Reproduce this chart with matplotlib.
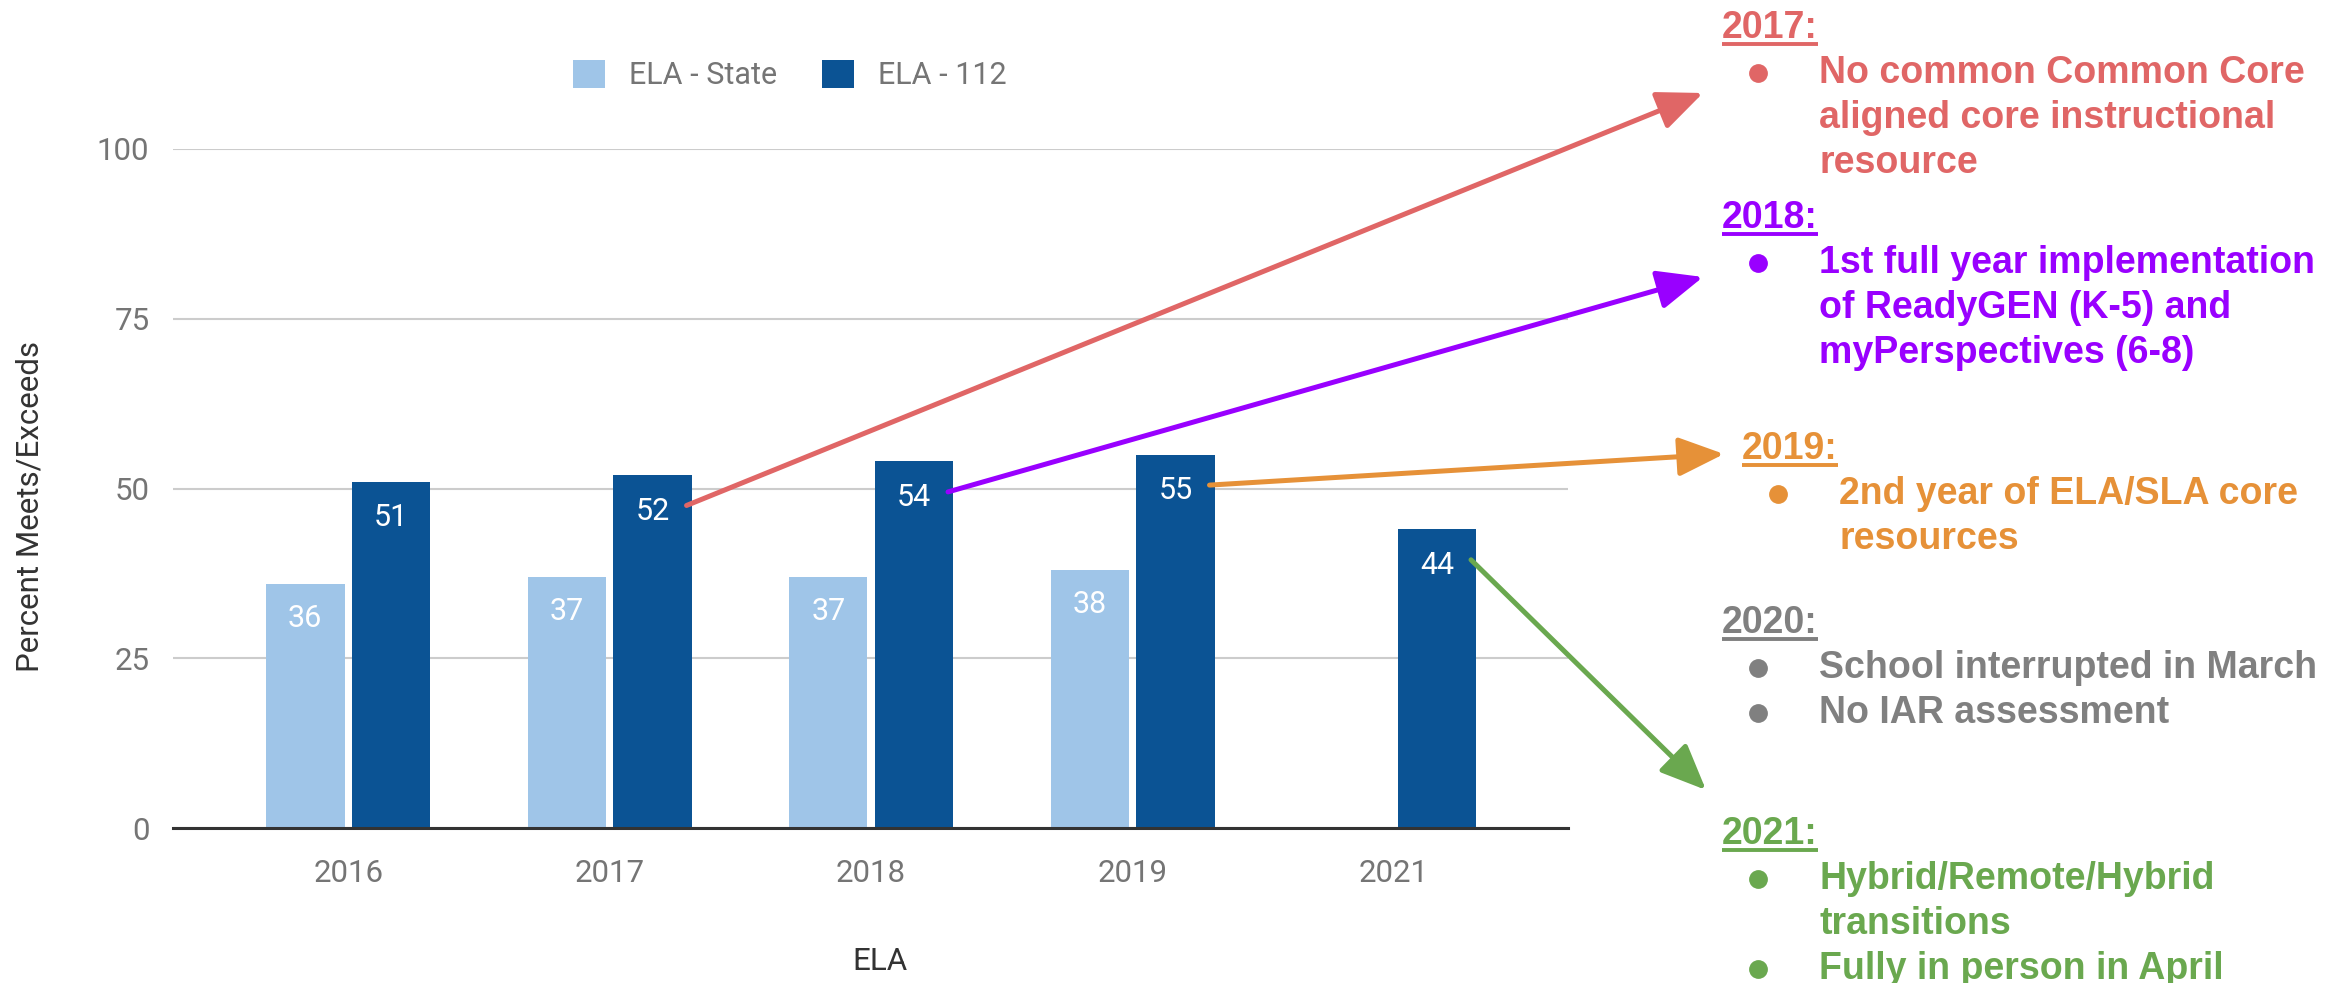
import numpy as np
import matplotlib.pyplot as plt
from matplotlib.lines import Line2D

years = ['2016', '2017', '2018', '2019', '2021']
ela_state = [36, 37, 37, 38, None]
ela_112 = [51, 52, 54, 55, 44]
series_names = ['ELA - State', 'ELA - 112']
y_ticks = [0, 25, 50, 75, 100]

note_years = ['2017:', '2018:', '2019:', '2020:', '2021:']
note_lines = [
    [['No common Common Core', 'aligned core instructional', 'resource']],
    [['1st full year implementation', 'of ReadyGEN (K-5) and', 'myPerspectives (6-8)']],
    [['2nd year of ELA/SLA core', 'resources']],
    [['School interrupted in March'], ['No IAR assessment']],
    [['Hybrid/Remote/Hybrid', 'transitions'], ['Fully in person in April']],
]
note_colors = ['#E06666', '#9900FF', '#E69138', '#808080', '#6AA84F']
# which bar (index in years) each arrow comes from, None = no arrow
note_bar = [1, 2, 3, None, 4]

W, H = 2339, 983

def fx(x):
    return x / W

def fy(y):
    return 1 - y / H

fig = plt.figure(figsize=(W / 100, H / 100), dpi=100)
ax = fig.add_axes([fx(173), fy(828), fx(1568) - fx(173), fy(149) - fy(828)])

light = '#9FC5E8'
dark = '#0B5394'
width = 0.30
off = 0.164
x = np.arange(len(years))

xs = [x[i] - off for i, v in enumerate(ela_state) if v is not None]
vs = [v for v in ela_state if v is not None]
b1 = ax.bar(xs, vs, width, color=light, zorder=3, label=series_names[0])
b2 = ax.bar(x + off, ela_112, width, color=dark, zorder=3, label=series_names[1])

for xi, v in zip(xs, vs):
    ax.annotate(str(v), (xi, v), xytext=(0, -25), textcoords='offset points',
                ha='center', va='center', color='white', fontsize=22,
                family='Roboto', zorder=4)
for xi, v in zip(x + off, ela_112):
    ax.annotate(str(v), (xi, v), xytext=(0, -26), textcoords='offset points',
                ha='center', va='center', color='white', fontsize=22,
                family='Roboto', zorder=4)

ax.set_xlim(-0.67, 4.665)
ax.set_ylim(0, 100)
ax.set_yticks(y_ticks)
ax.set_xticks(x)
ax.set_xticklabels(years)
ax.tick_params(length=0, labelsize=22.5, labelcolor='#757575', pad=17)
for lab in ax.get_xticklabels() + ax.get_yticklabels():
    lab.set_family('Roboto')
ax.tick_params(axis='x', pad=22)
ax.grid(axis='y', color='#cccccc', lw=1.5, zorder=0)
for s in ['top', 'right', 'left']:
    ax.spines[s].set_visible(False)
ax.spines['bottom'].set_color('#333333')
ax.spines['bottom'].set_linewidth(2.2)
ax.spines['bottom'].set_zorder(5)

fig.text(fx(30), fy(506), 'Percent Meets/Exceeds', rotation=90, ha='center',
         va='center', fontsize=22.5, family='Roboto', color='#333333')
fig.text(fx(880), fy(962), 'ELA', ha='center', va='center', fontsize=22.5,
         family='Roboto', color='#333333')

fig.legend(handles=[b1, b2], loc='center', bbox_to_anchor=(fx(790), fy(75)),
           ncol=2, frameon=False, prop={'family': 'Roboto', 'size': 22},
           labelcolor='#757575', handlelength=1.05, handleheight=1.05,
           handletextpad=0.8, columnspacing=1.45)

# notes on the right: header baselines, left indents
header_y = [38, 228, 459, 633, 844]
header_x = [1722, 1722, 1742, 1722, 1722]
line_gap = 45
first_gap = 45
note_font = dict(family=['Liberation Sans', 'DejaVu Sans'], weight='bold', fontsize=27)

headers = []
for k in range(len(note_years)):
    c = note_colors[k]
    hx, hy = header_x[k], header_y[k]
    t = fig.text(fx(hx), fy(hy), note_years[k], color=c, va='baseline', **note_font)
    headers.append(t)
    y = hy + first_gap
    for bullet in note_lines[k]:
        fig.add_artist(Line2D([fx(hx + 36)], [fy(y - 10)], marker='o', markersize=12.5,
                              color=c, transform=fig.transFigure))
        for line in bullet:
            fig.text(fx(hx + 97), fy(y), line, color=c, va='baseline', **note_font)
            y += line_gap

fig.canvas.draw()
r = fig.canvas.get_renderer()
for k, t in enumerate(headers):
    bb = t.get_window_extent(r)
    uy = header_y[k] + 6
    fig.add_artist(Line2D([bb.x0 / W, bb.x1 / W], [fy(uy), fy(uy)], lw=2.8,
                          color=note_colors[k], transform=fig.transFigure,
                          solid_capstyle='butt'))

# arrows from bars to notes
tips = [(1703, 93), (1703, 277), (1724, 454), None, (1706, 790)]
for k, bi in enumerate(note_bar):
    if bi is None:
        continue
    start = (x[bi] + off + width / 2 - 0.02, ela_112[bi] - 4.5)
    ax.annotate('', xy=(fx(tips[k][0]), fy(tips[k][1])), xycoords='figure fraction',
                xytext=start, textcoords='data',
                arrowprops=dict(arrowstyle='-|>,head_length=1.4,head_width=0.6',
                                mutation_scale=20, color=note_colors[k], lw=3.6,
                                shrinkA=0, shrinkB=0),
                annotation_clip=False, zorder=6)

fig.savefig('out.png', dpi=100)
